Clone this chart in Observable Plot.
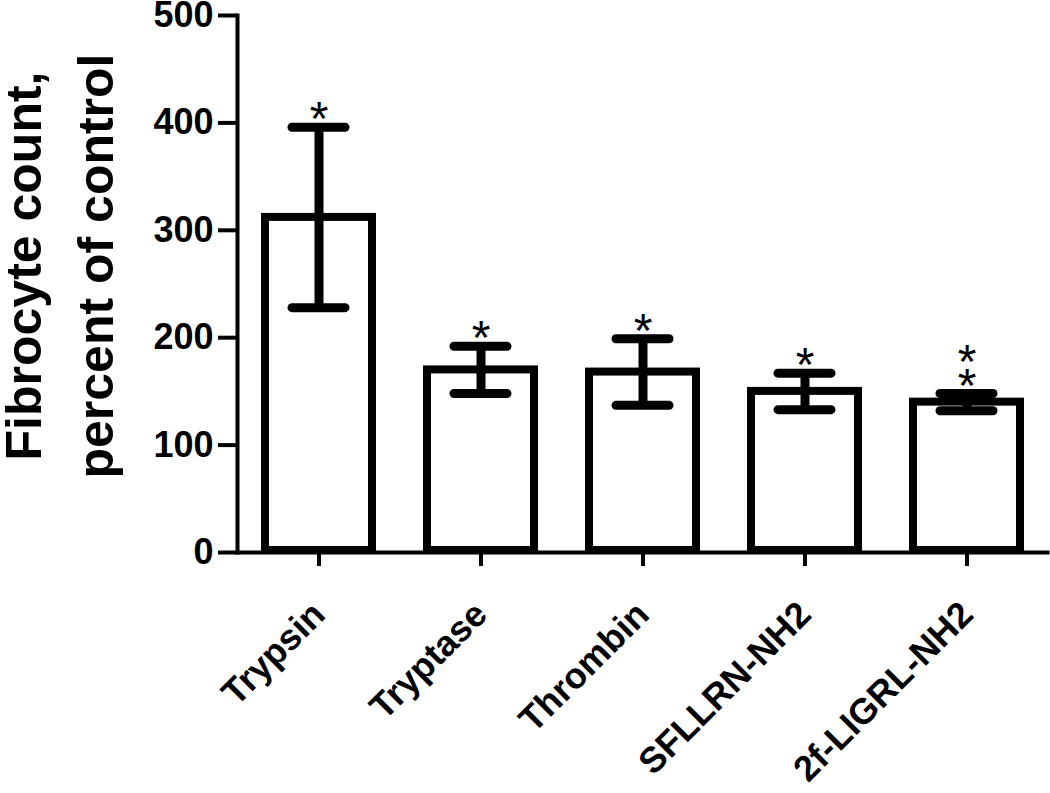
<!DOCTYPE html>
<html>
<head>
<meta charset="utf-8">
<script src="https://cdn.jsdelivr.net/npm/d3@7"></script>
<script src="https://cdn.jsdelivr.net/npm/@observablehq/plot@0.6"></script>
<style>
  html, body { margin: 0; padding: 0; background: white; }
  #chart svg { display: block; }
</style>
</head>
<body>
<div id="chart"></div>
<script>
const categories = ["Trypsin", "Tryptase", "Thrombin", "SFLLRN-NH2", "2f-LIGRL-NH2"];
const means = [312, 170, 168, 150, 140];
const sems = [84, 22, 31, 17, 8];
const stars = [1, 1, 1, 1, 2];
const yTicks = [0, 100, 200, 300, 400, 500];
const yLabel = "Fibrocyte count,\npercent of control";

const data = categories.map((c, i) => ({
  cat: c, mean: means[i], sem: sems[i],
  lo: means[i] - sems[i], hi: means[i] + sems[i],
  star: Array(stars[i]).fill("*").join("\n")
}));

const font = "'Liberation Sans', Arial, Helvetica, sans-serif";

const chart = Plot.plot({
  width: 1050,
  height: 793,
  marginLeft: 237,
  marginRight: 3,
  marginTop: 15,
  marginBottom: 241,
  style: { fontFamily: font, background: "white", color: "black", overflow: "visible" },
  x: { domain: categories, paddingInner: 0.342, paddingOuter: 0.162, label: null },
  y: { domain: [0, 500], label: null },
  marks: [
    Plot.barY(data, { x: "cat", y: "mean", fill: "white", stroke: "black", strokeWidth: 8, insetBottom: 2 }),
    Plot.ruleX(data, { x: "cat", y1: "lo", y2: "hi", stroke: "black", strokeWidth: 9 }),
    Plot.tickY(data, { x: "cat", y: "lo", stroke: "black", strokeWidth: 9, strokeLinecap: "round", insetLeft: 27, insetRight: 27 }),
    Plot.tickY(data, { x: "cat", y: "hi", stroke: "black", strokeWidth: 9, strokeLinecap: "round", insetLeft: 27, insetRight: 27 }),
    Plot.text(data, { x: "cat", y: "hi", text: "star", fontSize: 48, lineAnchor: "bottom", lineHeight: 0.5, dy: 8, fill: "black" }),
    Plot.axisY({ ticks: yTicks, tickSize: 19, tickPadding: 5, fontSize: 36, fontWeight: "bold", strokeWidth: 4, tickFormat: d => String(d), label: null }),
    Plot.axisX({ tickSize: 14, tickRotate: -45, tickPadding: 42, fontSize: 36, fontWeight: "bold", strokeWidth: 4, label: null }),
    Plot.frame({ anchor: "left", strokeWidth: 4 }),
    Plot.frame({ anchor: "bottom", strokeWidth: 4 }),
    Plot.text([yLabel], { frameAnchor: "left", textAnchor: "middle", rotate: -90, fontSize: 50, fontWeight: "bold", lineHeight: 1.44, dx: -184, dy: -18, fill: "black" })
  ]
});

document.getElementById("chart").appendChild(chart);
</script>
</body>
</html>
